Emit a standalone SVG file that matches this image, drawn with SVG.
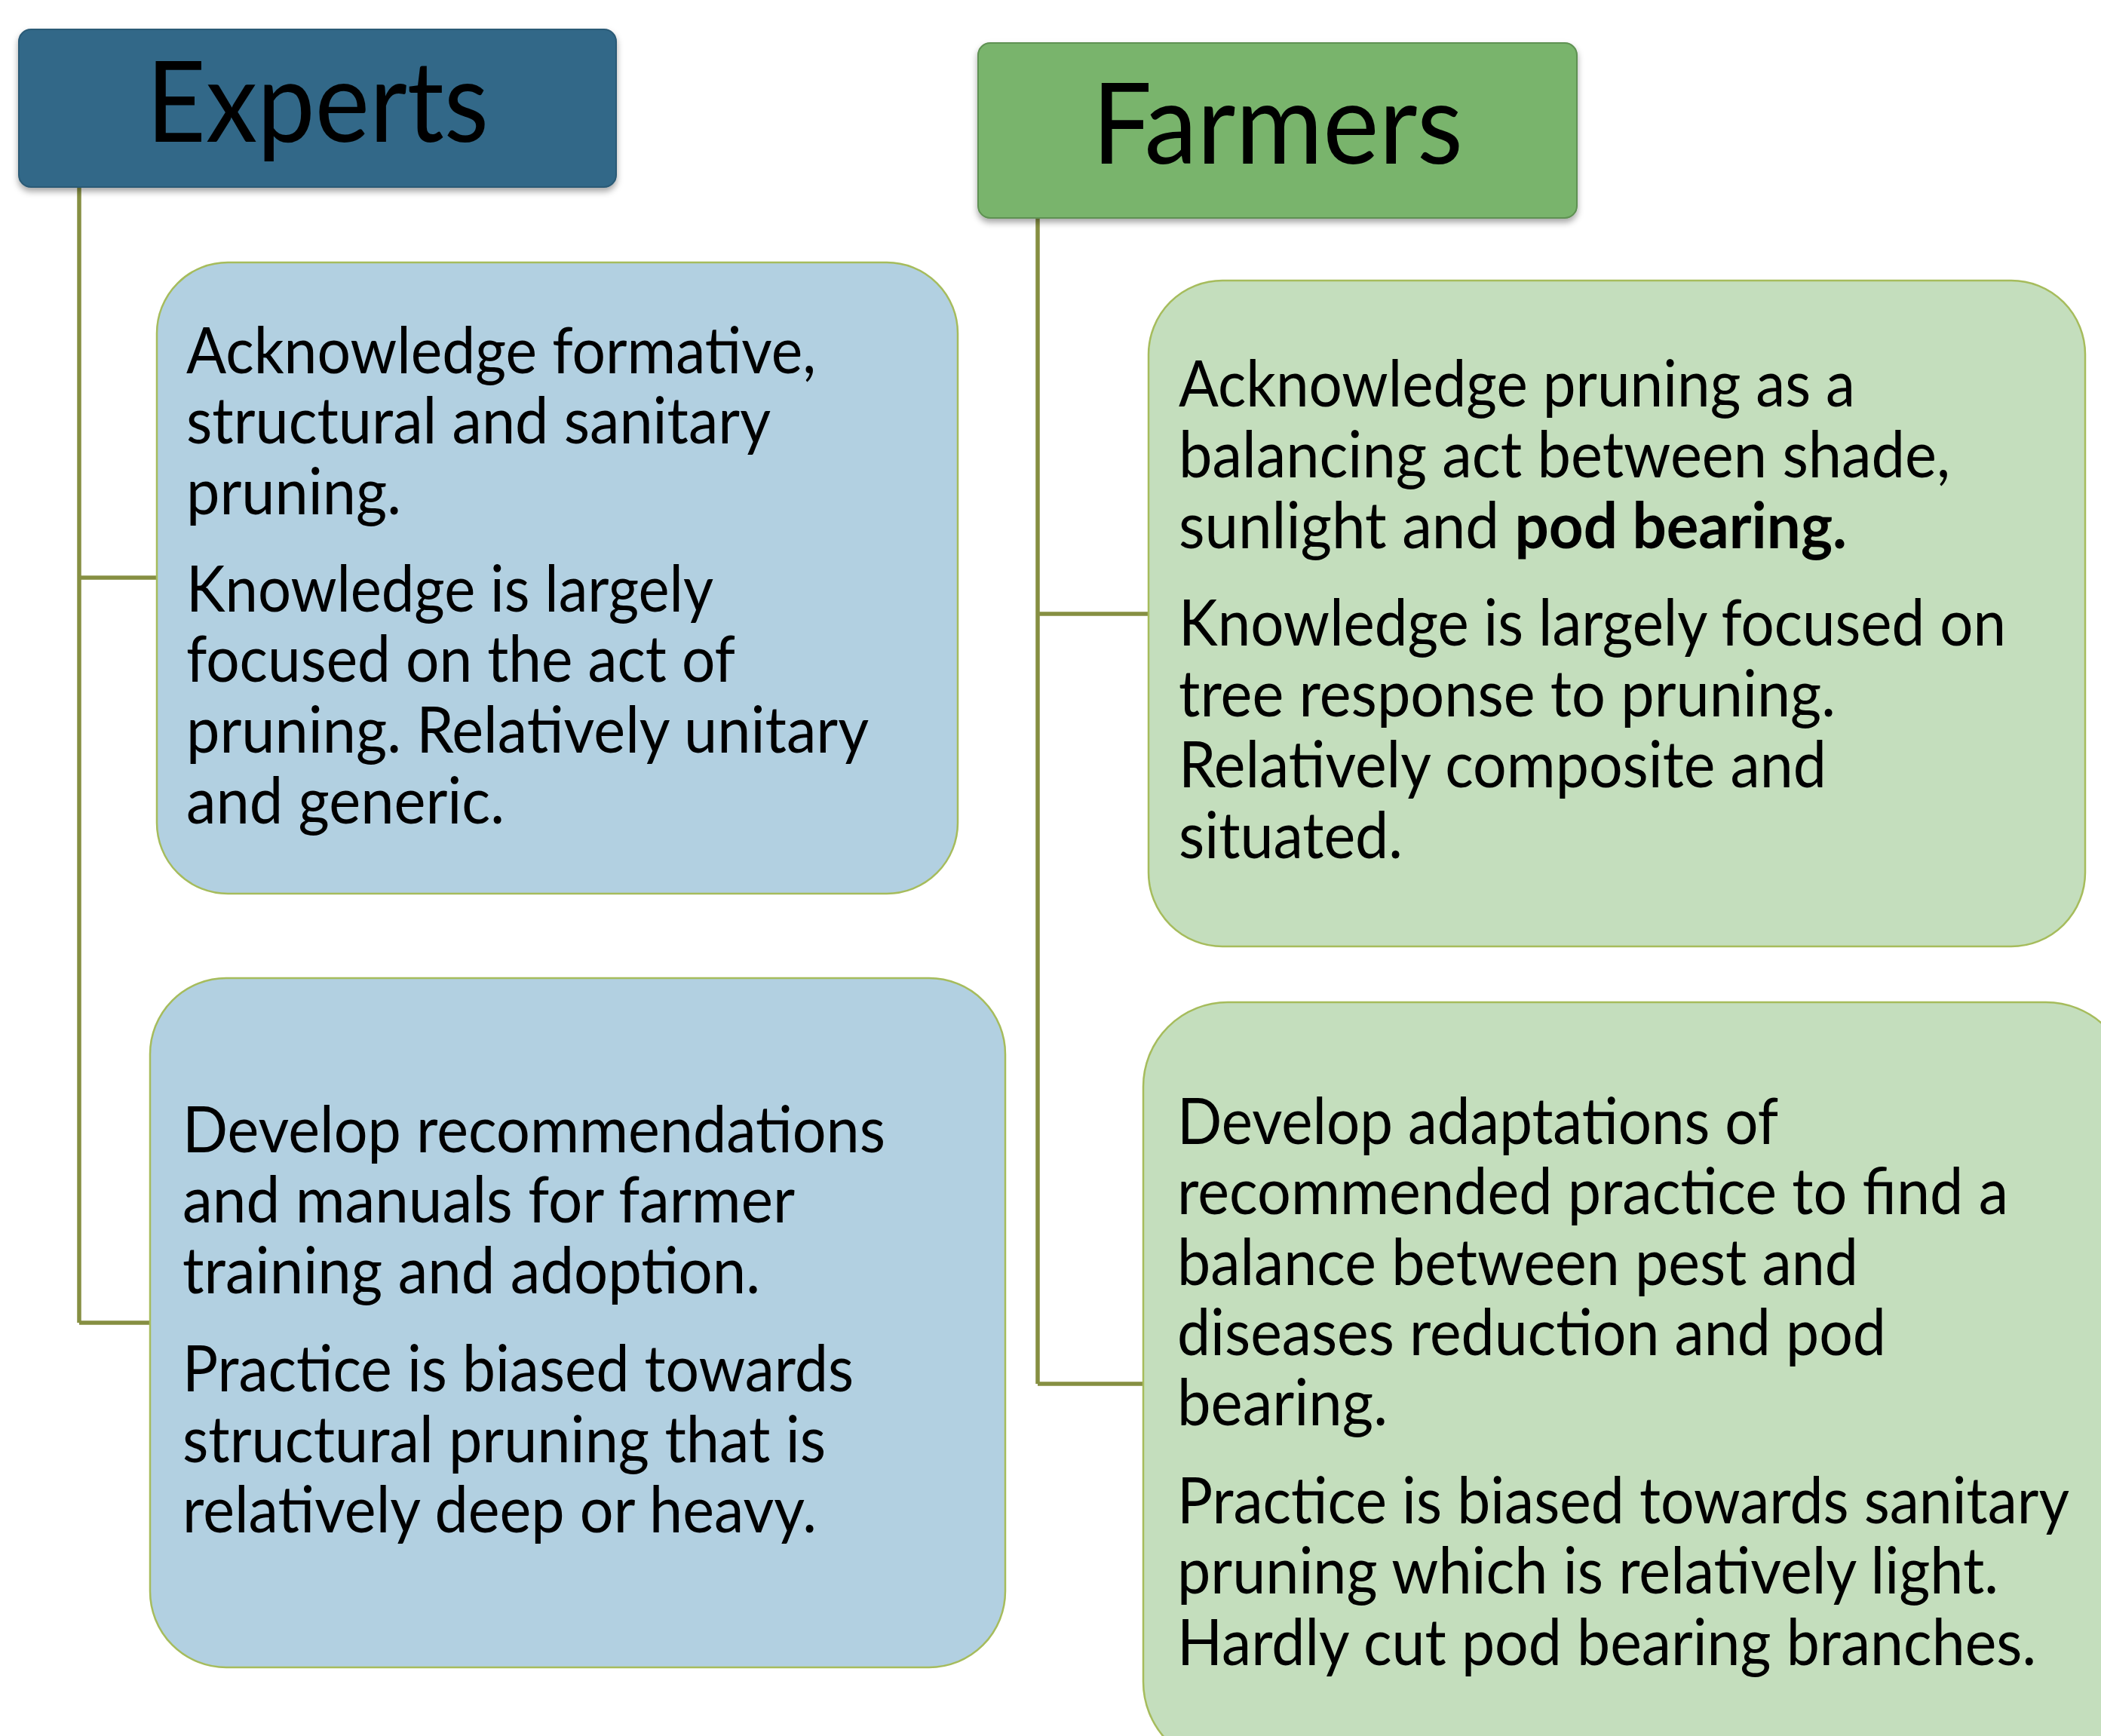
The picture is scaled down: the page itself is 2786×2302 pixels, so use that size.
<svg xmlns="http://www.w3.org/2000/svg" width="2786" height="2302" viewBox="0 0 2786 2302">
<defs>
<style>
.hdr{font-family:Lato,"Open Sans","Liberation Sans",sans-serif;font-size:150px;fill:#000;text-anchor:middle}
.t{font-family:Lato,"Open Sans","Liberation Sans",sans-serif;font-size:85px;fill:#000}
.b{font-weight:bold}
.blue{fill:#B2D0E1;stroke:#A6BC5C;stroke-width:2.5}
.green{fill:#C4DEBD;stroke:#A6BC5C;stroke-width:2.5}
.conn{fill:none;stroke:#868F42;stroke-width:5.5}
</style>
<filter id="sh" x="-5%" y="-10%" width="110%" height="130%">
<feDropShadow dx="0" dy="5" stdDeviation="4" flood-color="#000" flood-opacity="0.35"/>
</filter>
</defs>
<rect width="2786" height="2302" fill="#fff"/>
<g id="connectors">
<path class="conn" d="M105 247 V1754 M105 766 H208 M105 1754 H199"/>
<path class="conn" d="M1376 289 V1835 M1376 814 H1523 M1376 1835 H1516"/>
</g>
<g id="experts">
<rect x="25" y="39" width="792" height="209" rx="16" fill="#316888" stroke="#2A5A76" stroke-width="2" filter="url(#sh)"/>
<text class="hdr" x="421" y="188" textLength="454" lengthAdjust="spacingAndGlyphs">Experts</text>
</g>
<g id="farmers">
<rect x="1297" y="57" width="794" height="232" rx="16" fill="#79B46C" stroke="#5E9152" stroke-width="2" filter="url(#sh)"/>
<text class="hdr" x="1694" y="217" textLength="492" lengthAdjust="spacingAndGlyphs">Farmers</text>
</g>
<g id="experts-knowledge">
<rect class="blue" x="208" y="348" width="1062" height="837" rx="94"/>
<text class="t" x="247" y="495" textLength="835" lengthAdjust="spacingAndGlyphs">Acknowledge formative,</text>
<text class="t" x="247" y="588" textLength="775" lengthAdjust="spacingAndGlyphs">structural and sanitary</text>
<text class="t" x="247" y="682" textLength="285" lengthAdjust="spacingAndGlyphs">pruning.</text>
<text class="t" x="247" y="811" textLength="699" lengthAdjust="spacingAndGlyphs">Knowledge is largely</text>
<text class="t" x="247" y="904" textLength="728" lengthAdjust="spacingAndGlyphs">focused on the act of</text>
<text class="t" x="247" y="998" textLength="905" lengthAdjust="spacingAndGlyphs">pruning. Relatively unitary</text>
<text class="t" x="247" y="1092" textLength="422" lengthAdjust="spacingAndGlyphs">and generic.</text>
</g>
<g id="experts-practice">
<rect class="blue" x="199" y="1297" width="1134" height="914" rx="101"/>
<text class="t" x="242" y="1528" textLength="932" lengthAdjust="spacingAndGlyphs">Develop recommendations</text>
<text class="t" x="242" y="1621" textLength="812" lengthAdjust="spacingAndGlyphs">and manuals for farmer</text>
<text class="t" x="242" y="1715" textLength="766" lengthAdjust="spacingAndGlyphs">training and adoption.</text>
<text class="t" x="242" y="1845" textLength="890" lengthAdjust="spacingAndGlyphs">Practice is biased towards</text>
<text class="t" x="242" y="1939" textLength="853" lengthAdjust="spacingAndGlyphs">structural pruning that is</text>
<text class="t" x="242" y="2032" textLength="841" lengthAdjust="spacingAndGlyphs">relatively deep or heavy.</text>
</g>
<g id="farmers-knowledge">
<rect class="green" x="1523" y="372" width="1242" height="883" rx="98"/>
<text class="t" x="1563" y="539" textLength="897" lengthAdjust="spacingAndGlyphs">Acknowledge pruning as a</text>
<text class="t" x="1563" y="633" textLength="1023" lengthAdjust="spacingAndGlyphs">balancing act between shade,</text>
<text class="t" x="1563" y="727" textLength="886" lengthAdjust="spacingAndGlyphs">sunlight and <tspan class="b">pod bearing.</tspan></text>
<text class="t" x="1563" y="856" textLength="1097" lengthAdjust="spacingAndGlyphs">Knowledge is largely focused on</text>
<text class="t" x="1563" y="950" textLength="871" lengthAdjust="spacingAndGlyphs">tree response to pruning.</text>
<text class="t" x="1563" y="1044" textLength="859" lengthAdjust="spacingAndGlyphs">Relatively composite and</text>
<text class="t" x="1563" y="1138" textLength="297" lengthAdjust="spacingAndGlyphs">situated.</text>
</g>
<g id="farmers-practice">
<rect class="green" x="1516" y="1329" width="1309" height="1013" rx="112"/>
<text class="t" x="1561" y="1517" textLength="797" lengthAdjust="spacingAndGlyphs">Develop adaptations of</text>
<text class="t" x="1561" y="1610" textLength="1102" lengthAdjust="spacingAndGlyphs">recommended practice to find a</text>
<text class="t" x="1561" y="1704" textLength="903" lengthAdjust="spacingAndGlyphs">balance between pest and</text>
<text class="t" x="1561" y="1797" textLength="940" lengthAdjust="spacingAndGlyphs">diseases reduction and pod</text>
<text class="t" x="1561" y="1890" textLength="279" lengthAdjust="spacingAndGlyphs">bearing.</text>
<text class="t" x="1561" y="2020" textLength="1183" lengthAdjust="spacingAndGlyphs">Practice is biased towards sanitary</text>
<text class="t" x="1561" y="2113" textLength="1089" lengthAdjust="spacingAndGlyphs">pruning which is relatively light.</text>
<text class="t" x="1561" y="2208" textLength="1139" lengthAdjust="spacingAndGlyphs">Hardly cut pod bearing branches.</text>
</g>
</svg>
